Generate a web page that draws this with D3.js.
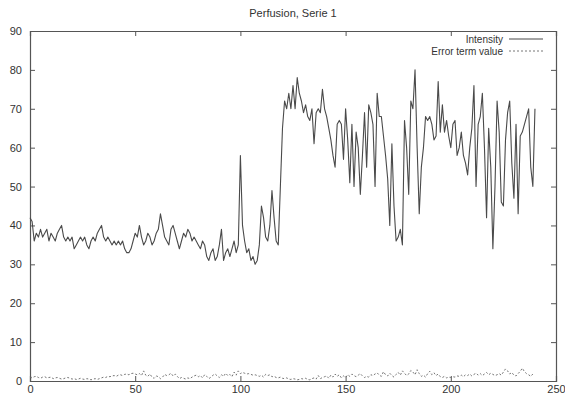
<!DOCTYPE html>
<html><head><meta charset="utf-8">
<script src="https://cdn.jsdelivr.net/npm/d3@7"></script>
<style>
html,body{margin:0;padding:0;background:#fff;}
svg{display:block;font-family:"Liberation Sans",Arial,sans-serif;}
</style></head>
<body>
<script>
const title = "Perfusion, Serie 1";
const seriesNames = ["Intensity", "Error term value"];
const xTicks = [0, 50, 100, 150, 200, 250];
const yTicks = [0, 10, 20, 30, 40, 50, 60, 70, 80, 90];
const intensity = [
42,41,36,38,37,39,37,38,39,36,38,
37,36,38,39,40,37,36,37,36,37,
34,35,36,37,36,37,35,34,36,37,
36,38,39,40,37,36,37,36,35,36,
35,36,35,36,34,33,33,34,36,38,
37,40,37,35,36,38,37,35,36,38,
39,43,40,37,36,35,39,40,38,36,
34,36,38,37,39,38,36,37,36,35,
34,36,35,32,31,33,34,31,32,35,
39,31,33,34,32,34,36,33,35,58,
40,36,33,34,31,32,30,31,35,45,
42,37,36,40,49,42,36,35,50,65,
72,70,74,70,76,70,78,74,72,69,
71,68,67,70,61,69,70,69,75,70,
68,65,62,58,55,66,67,66,57,70,
62,51,66,50,64,60,48,58,69,55,
71,69,66,50,74,68,68,63,58,52,
40,61,45,36,37,39,35,67,60,48,
72,70,80,60,43,55,60,68,67,68,
66,62,63,77,64,71,64,67,63,60,
66,67,58,60,64,58,56,53,60,65,
76,50,66,68,74,60,42,65,55,34,
50,72,64,46,45,62,69,72,56,47,
66,43,63,64,66,68,70,55,50,70
];
const errorTerm = [
1.0,0.8,1.1,1.2,0.9,0.7,1.0,1.1,0.8,0.9,1.0,0.6,0.8,0.9,0.7,0.5,0.6,0.8,0.9,0.7,
0.5,0.6,0.4,0.5,0.7,0.5,0.4,0.6,0.5,0.3,0.5,0.6,0.4,0.6,0.8,1.0,0.9,1.2,1.1,1.3,
1.4,1.2,1.5,1.6,1.4,1.7,1.8,1.6,1.9,2.0,1.8,1.6,1.9,1.4,2.6,1.5,1.2,1.8,1.0,0.7,
1.3,1.1,0.6,1.0,1.7,1.4,1.6,2.0,1.3,1.8,1.2,0.6,0.9,0.7,0.5,0.8,0.6,1.0,1.3,1.5,
1.1,1.4,0.8,1.6,1.2,0.6,1.0,1.5,1.8,1.3,0.9,1.6,1.2,2.0,1.4,1.7,1.1,2.3,1.5,2.6,
1.9,2.2,2.0,1.8,1.9,1.7,1.5,1.6,1.4,1.2,1.5,1.0,1.7,1.4,1.6,1.1,1.2,0.9,0.8,1.0,
0.7,0.6,0.8,0.5,0.4,0.6,0.5,0.3,0.4,0.6,0.5,0.7,0.4,0.3,0.6,0.8,0.5,1.4,0.6,0.9,
1.1,1.3,0.7,1.5,1.0,1.8,1.2,1.6,0.8,1.3,0.9,1.6,1.2,1.8,1.4,1.1,1.5,1.9,1.3,0.9,
1.2,1.0,1.6,1.4,1.8,2.1,1.5,1.2,2.4,1.6,1.3,2.0,1.4,1.0,1.7,2.2,1.5,2.6,2.0,1.4,
1.8,2.7,2.3,1.6,2.9,1.9,1.2,1.5,1.0,1.9,2.5,1.6,2.1,1.4,1.8,1.1,0.9,1.2,0.8,1.0,
0.9,1.1,1.0,1.3,1.2,1.5,1.1,1.6,1.4,1.8,1.3,1.7,2.0,1.5,1.9,1.4,1.8,2.2,1.6,2.0,
1.7,1.4,1.6,1.9,1.5,2.3,3.1,2.6,1.8,2.2,1.5,1.3,1.9,2.5,3.3,2.4,1.9,1.6,1.2,1.8
];

const W = 565, H = 398;
const m = {left: 30, right: 9, top: 31, bottom: 17};
const svg = d3.select("body").append("svg").attr("width", W).attr("height", H);
const x = d3.scaleLinear().domain([0, 250]).range([m.left, W - m.right]);
const y = d3.scaleLinear().domain([0, 90]).range([H - m.bottom, m.top]);
const axisColor = "#555", textColor = "#333", lineColor = "#4a4a4a";

// mirrored inward ticks, gnuplot style
const tk = 5;
const axB = svg.append("g").attr("transform", `translate(0,${y(0)})`)
  .call(d3.axisBottom(x).tickValues(xTicks).tickSize(-tk).tickPadding(4).tickFormat(d3.format("d")));
const axT = svg.append("g").attr("transform", `translate(0,${y(90)})`)
  .call(d3.axisTop(x).tickValues(xTicks).tickSize(-tk).tickFormat(""));
const axL = svg.append("g").attr("transform", `translate(${x(0)},0)`)
  .call(d3.axisLeft(y).tickValues(yTicks).tickSize(-tk).tickPadding(8).tickFormat(d3.format("d")));
const axR = svg.append("g").attr("transform", `translate(${x(250)},0)`)
  .call(d3.axisRight(y).tickValues(yTicks).tickSize(-tk).tickFormat(""));
[axB, axT, axL, axR].forEach(g => {
  g.select(".domain").attr("stroke", axisColor).attr("stroke-width", 1.2);
  g.selectAll(".tick line").attr("stroke", axisColor).attr("stroke-width", 1);
  g.selectAll(".tick text").attr("fill", textColor).style("font-size", "11px")
   .style("font-family", "Liberation Sans, Arial, sans-serif");
});
axB.selectAll(".tick text").attr("dy", "0.71em");

const line = d3.line().x((d, i) => x(i)).y(d => y(d));
svg.append("path").datum(intensity).attr("d", line)
  .attr("fill", "none").attr("stroke", lineColor).attr("stroke-width", 1.1).attr("stroke-linejoin", "round");
svg.append("path").datum(errorTerm).attr("d", line)
  .attr("fill", "none").attr("stroke", "#666").attr("stroke-width", 0.9).attr("stroke-dasharray", "2,2");

svg.append("text").attr("x", (x(0) + x(250)) / 2).attr("y", 17).attr("text-anchor", "middle")
  .attr("fill", textColor).style("font-size", "11px").text(title);

// legend
const leg = svg.append("g");
const lx = 503, lys = [39, 51];
seriesNames.forEach((n, i) => {
  leg.append("text").attr("x", lx).attr("y", lys[i]).attr("dy", "0.35em").attr("text-anchor", "end")
    .attr("fill", textColor).style("font-size", "10px").text(n);
  leg.append("line").attr("x1", lx + 6).attr("x2", lx + 40).attr("y1", lys[i]).attr("y2", lys[i])
    .attr("stroke", i === 0 ? lineColor : "#666").attr("stroke-width", i === 0 ? 1.1 : 0.9)
    .attr("stroke-dasharray", i === 0 ? null : "2,2");
});
</script>
</body></html>
